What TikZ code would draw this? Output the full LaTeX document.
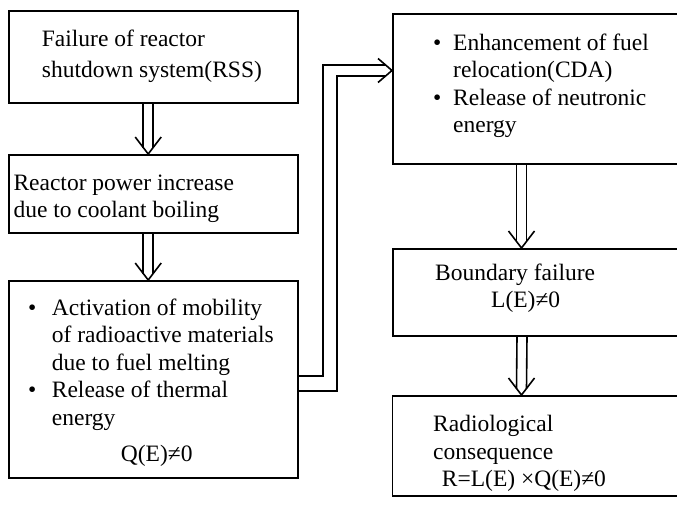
\documentclass[tikz,border=0pt]{standalone}
\usepackage{fontspec}
\setmainfont{Liberation Serif}
\tikzset{
  box/.style={draw, line width=1.8pt, rectangle, inner sep=0pt, anchor=north west},
  ln/.style={line width=1.6pt},
  txt/.style={inner sep=0pt, anchor=north west, align=left, font=\fontsize{23.5}{27.5}\selectfont}
}
\newcommand\topstrut{\rule{0pt}{20pt}}
\newcommand\dnarrow[2]{%
  \draw[ln] ([xshift=-5pt]#1) -- ([xshift=-5pt,yshift=6.5pt]#2);
  \draw[ln] ([xshift=5pt]#1) -- ([xshift=5pt,yshift=6.5pt]#2);
  \draw[ln] ([xshift=-13pt,yshift=17pt]#2) -- (#2) -- ([xshift=13pt,yshift=17pt]#2);}
\begin{document}
\begin{tikzpicture}[x=1pt,y=-1pt]
\useasboundingbox (0,0) rectangle (677,506);
\fill[white] (0,0) rectangle (677,506);
\clip (0,0) rectangle (677,506);
% left column boxes
\node[box, minimum width=289pt, minimum height=92pt] (b1) at (8,10) {};
\node[box, minimum width=289pt, minimum height=78pt] (b2) at (8,154) {};
\node[box, minimum width=289pt, minimum height=197pt] (b3) at (8,280) {};
% right column boxes
\node[box, minimum width=320pt, minimum height=150pt] (r1) at (392,12.7) {};
\node[box, minimum width=320pt, minimum height=87pt] (r2) at (392,248) {};
\node[box, minimum width=320pt, minimum height=100pt] (r3) at (391.5,395) {};
% texts
\node[txt] (t1) at (41.7,26.7) {\topstrut Failure of reactor\\[3pt]shutdown system(RSS)};
\node[txt] (t2) at (13.3,170) {\topstrut Reactor power increase\\due to coolant boiling};
\node[txt] (t3) at (28,295) {\topstrut\makebox[23.7pt][l]{\textbullet}Activation of mobility\\
  \hspace*{23.7pt}of radioactive materials\\
  \hspace*{23.7pt}due to fuel melting\\
  \makebox[23.7pt][l]{\textbullet}Release of thermal\\
  \hspace*{23.7pt}energy\\[9pt]
  \hspace*{92.7pt}Q(E)≠0};
\node[txt] (t4) at (433,30) {\topstrut\makebox[20pt][l]{\textbullet}Enhancement of fuel\\
  \hspace*{20pt}relocation(CDA)\\
  \makebox[20pt][l]{\textbullet}Release of neutronic\\
  \hspace*{20pt}energy};
\node[txt] (t5) at (435,260) {\topstrut Boundary failure\\\hspace*{56pt}L(E)≠0};
\node[txt] (t6) at (433,411.7) {\topstrut Radiological\\consequence\\\hspace*{8.7pt}R=L(E) ×Q(E)≠0};
% vertical double arrows
\coordinate (a1s) at ([xshift=-5.2pt]b1.south);
\coordinate (a1t) at ([xshift=-5.2pt]b2.north);
\dnarrow{a1s}{a1t}
\coordinate (a2s) at ([xshift=-5.2pt]b2.south);
\coordinate (a2t) at ([xshift=-5.2pt]b3.north);
\dnarrow{a2s}{a2t}
\coordinate (a3s) at ([xshift=129.5pt]r1.south west);
\coordinate (a3t) at ([xshift=129.5pt]r2.north west);
\dnarrow{a3s}{a3t}
\coordinate (a4s) at ([xshift=130pt]r2.south west);
\coordinate (a4t) at ([xshift=130pt]r3.north west);
\dnarrow{a4s}{a4t}
% bent double connector from b3 to r1
\coordinate (cTip) at ([yshift=-57.8pt]r1.north west);
\draw[ln] ([yshift=3.5pt]b3.east) -| ([xshift=-69pt,yshift=5.5pt]cTip) -- ([xshift=-6.4pt,yshift=5.5pt]cTip);
\draw[ln] ([yshift=-11.5pt]b3.east) -| ([xshift=-55pt,yshift=-5.5pt]cTip) -- ([xshift=-6.4pt,yshift=-5.5pt]cTip);
\draw[ln] ([xshift=-14pt,yshift=12pt]cTip) -- (cTip) -- ([xshift=-14pt,yshift=-12pt]cTip);
\end{tikzpicture}
\end{document}
